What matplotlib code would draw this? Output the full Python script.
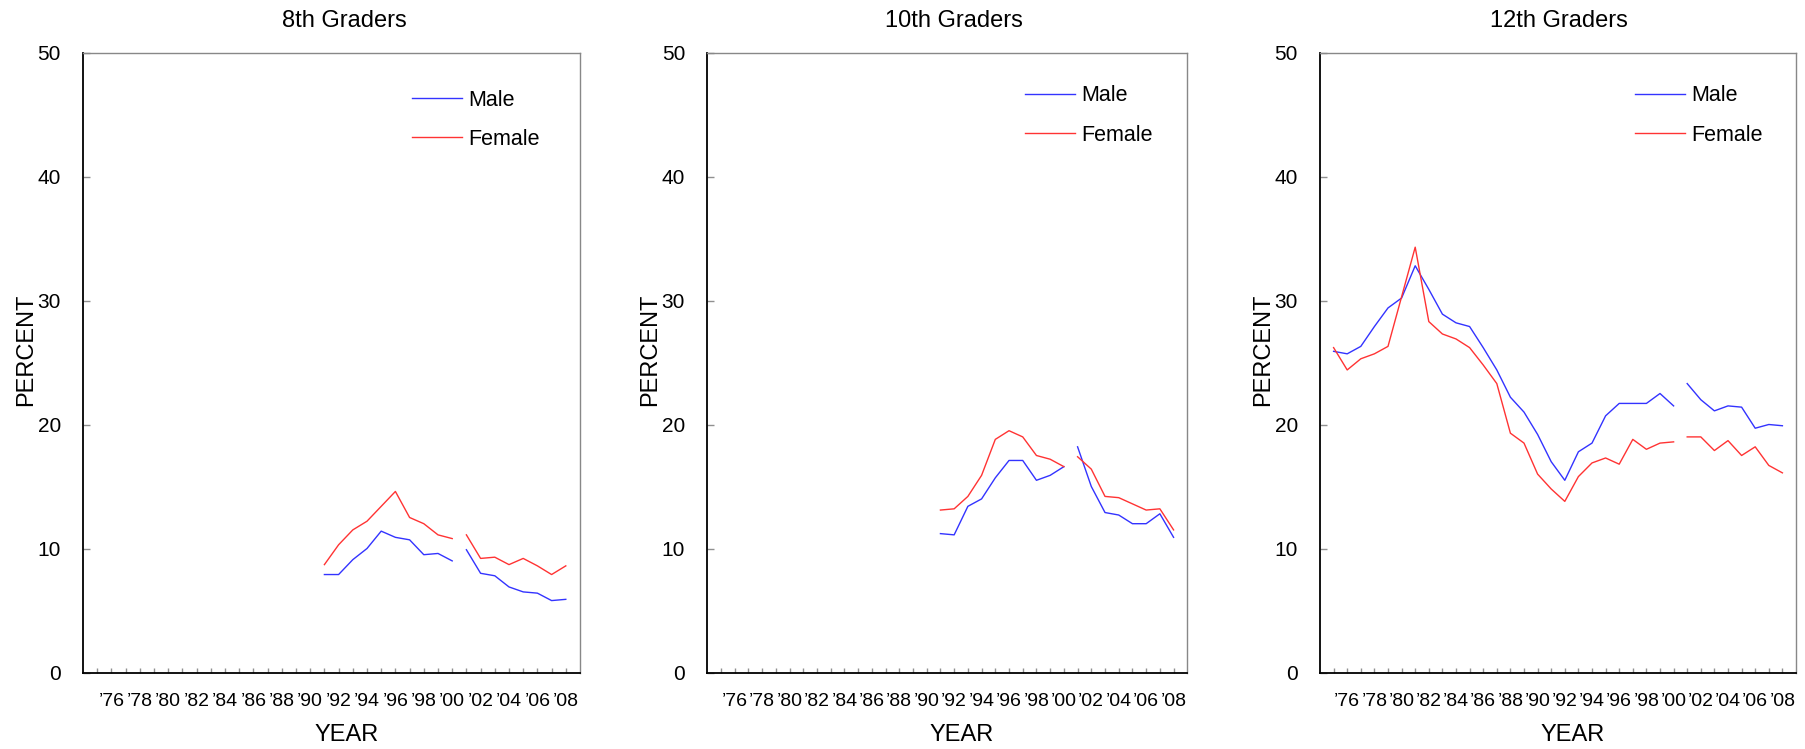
"""
Three-panel line chart: percent by year for 8th, 10th and 12th graders,
male vs female, with a break in each series between 2000 and 2001.
"""

import numpy as np
import matplotlib
matplotlib.use("Agg")
import matplotlib.pyplot as plt

plt.rcParams["font.family"] = ["Liberation Sans", "DejaVu Sans"]

# ---- data -----------------------------------------------------------------
YEARS_8_10 = list(range(1991, 2009))
YEARS_12 = list(range(1975, 2009))
BREAK_AFTER = 2000  # series are drawn as two segments around this year

MALE_8 = [7.9, 7.9, 9.1, 10.0, 11.4, 10.9, 10.7, 9.5, 9.6, 9.0,
          9.9, 8.0, 7.8, 6.9, 6.5, 6.4, 5.8, 5.9]
FEMALE_8 = [8.7, 10.3, 11.5, 12.2, 13.4, 14.6, 12.5, 12.0, 11.1, 10.8,
            11.1, 9.2, 9.3, 8.7, 9.2, 8.6, 7.9, 8.6]

MALE_10 = [11.2, 11.1, 13.4, 14.0, 15.7, 17.1, 17.1, 15.5, 15.9, 16.6,
           18.2, 15.0, 12.9, 12.7, 12.0, 12.0, 12.8, 10.9]
FEMALE_10 = [13.1, 13.2, 14.2, 15.9, 18.8, 19.5, 19.0, 17.5, 17.2, 16.6,
             17.4, 16.4, 14.2, 14.1, 13.6, 13.1, 13.2, 11.5]

MALE_12 = [25.9, 25.7, 26.3, 27.9, 29.4, 30.2, 32.8, 30.9, 28.9, 28.2,
           27.9, 26.2, 24.4, 22.2, 21.0, 19.2, 17.0, 15.5, 17.8, 18.5,
           20.7, 21.7, 21.7, 21.7, 22.5, 21.5,
           23.3, 22.0, 21.1, 21.5, 21.4, 19.7, 20.0, 19.9]
FEMALE_12 = [26.2, 24.4, 25.3, 25.7, 26.3, 30.3, 34.3, 28.3, 27.3, 26.9,
             26.2, 24.8, 23.3, 19.3, 18.5, 16.0, 14.8, 13.8, 15.8, 16.9,
             17.3, 16.8, 18.8, 18.0, 18.5, 18.6,
             19.0, 19.0, 17.9, 18.7, 17.5, 18.2, 16.7, 16.1]

TITLES = ["8th Graders", "10th Graders", "12th Graders"]
TICK_YEARS = list(range(1975, 2009))
LABEL_YEARS = [1976, 1978, 1980, 1982, 1984, 1986, 1988, 1990, 1992,
               1994, 1996, 1998, 2000, 2002, 2004, 2006, 2008]
YEAR_LABELS = ["\u201976", "\u201978", "\u201980", "\u201982", "\u201984",
               "\u201986", "\u201988", "\u201990", "\u201992", "\u201994",
               "\u201996", "\u201998", "\u201900", "\u201902", "\u201904",
               "\u201906", "\u201908"]
Y_TICKS = [0, 10, 20, 30, 40, 50]

COLORS = {"Male": "#3333ff", "Female": "#ff3333"}

# axes rectangles in pixels (left, right) of the 1805x749 canvas
AX_PIX = [(83, 580), (707.3, 1187.3), (1320, 1796)]
AX_BOTTOM, AX_TOP = 672.5, 52.5
LEGEND_Y = [0.940, 0.947, 0.947]
TITLE_X = [344, 954, 1559]
FIG_W, FIG_H = 1805, 749


def plot_series(ax, years, values, label):
    years = np.array(years)
    values = np.array(values)
    first = years <= BREAK_AFTER
    ax.plot(years[first], values[first], color=COLORS[label], lw=1.0,
            label=label)
    ax.plot(years[~first], values[~first], color=COLORS[label], lw=1.0)


def style_axes(ax, i):
    width_px = AX_PIX[i][1] - AX_PIX[i][0]
    ax.set_xlim(1974, 2009)
    ax.set_ylim(0, 50)

    lookup = dict(zip(LABEL_YEARS, YEAR_LABELS))
    ax.set_xticks(TICK_YEARS)
    ax.set_xticklabels([lookup.get(y, "") for y in TICK_YEARS], fontsize=14)
    ax.tick_params(axis="x", direction="in", length=3.5, color="#909090",
                   width=1.0, pad=15)

    ax.set_yticks(Y_TICKS)
    ax.set_yticklabels([str(v) for v in Y_TICKS], fontsize=15)
    ax.tick_params(axis="y", direction="in", length=5, color="#909090",
                   width=1.0, pad=16)

    for side in ("left", "bottom"):
        ax.spines[side].set_color("black")
        ax.spines[side].set_linewidth(1.3)
    for side in ("top", "right"):
        ax.spines[side].set_color("#888888")
        ax.spines[side].set_linewidth(1.0)

    ax.set_xlabel("YEAR", fontsize=17)
    ax.xaxis.set_label_coords(0.53, -0.083)
    ax.set_ylabel("PERCENT", fontsize=17)
    ax.yaxis.set_label_coords(-46 / width_px, 0.52)

    ax.legend(loc="upper left", bbox_to_anchor=(0.662, LEGEND_Y[i]),
              frameon=False, fontsize=15.5, handlelength=2.3,
              handletextpad=0.3, labelspacing=0.85, borderpad=0,
              borderaxespad=0)


def main():
    fig = plt.figure(figsize=(FIG_W / 100, FIG_H / 100), dpi=100)

    panels = [
        (YEARS_8_10, MALE_8, FEMALE_8),
        (YEARS_8_10, MALE_10, FEMALE_10),
        (YEARS_12, MALE_12, FEMALE_12),
    ]

    for i, (years, male, female) in enumerate(panels):
        left, right = AX_PIX[i]
        rect = (left / FIG_W, (FIG_H - AX_BOTTOM) / FIG_H,
                (right - left) / FIG_W, (AX_BOTTOM - AX_TOP) / FIG_H)
        ax = fig.add_axes(rect)
        plot_series(ax, years, male, "Male")
        plot_series(ax, years, female, "Female")
        style_axes(ax, i)
        fig.text(TITLE_X[i] / FIG_W, 1 - 21 / FIG_H, TITLES[i], fontsize=17,
                 ha="center", va="center")

    fig.savefig("out.png", dpi=100)
    plt.close(fig)


if __name__ == "__main__":
    main()
